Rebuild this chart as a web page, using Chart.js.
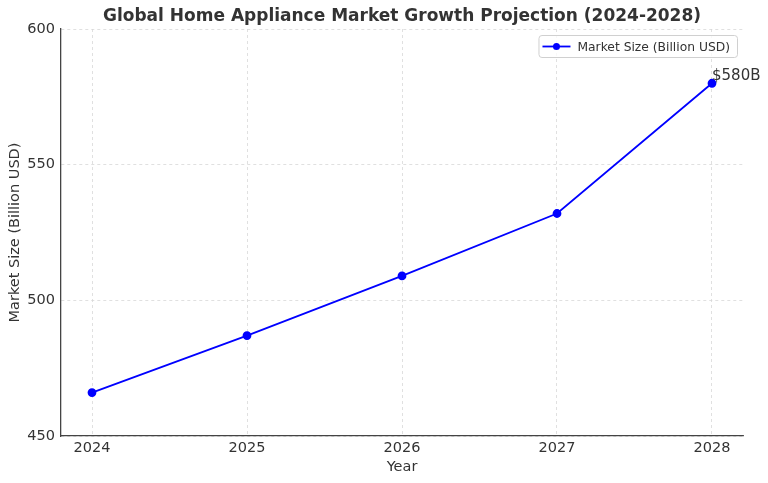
<!DOCTYPE html>
<html>
<head>
<meta charset="utf-8">
<script src="https://cdn.jsdelivr.net/npm/chart.js@4"></script>
<style>
  html, body { margin: 0; padding: 0; background: #fff; }
  #wrap { width: 768px; height: 483px; }
</style>
</head>
<body>
<div id="wrap"><canvas id="lineChart" width="768" height="483"></canvas></div>
<script>
const YEARS = [2024, 2025, 2026, 2027, 2028];
const MARKET_SIZE = [466, 487, 509, 532, 580];
const Y_TICKS = [450, 500, 550, 600];
const SERIES_LABEL = 'Market Size (Billion USD)';
const END_LABEL = '$580B';

const FONT = "'DejaVu Sans', sans-serif";
const TEXT = '#333333';

// legend box + end label drawn inside the plot
const extras = {
  id: 'extras',
  afterDraw(chart) {
    const ctx = chart.ctx;
    const area = chart.chartArea;
    const meta = chart.getDatasetMeta(0);
    const last = meta.data[meta.data.length - 1];

    ctx.save();
    ctx.font = '15px ' + FONT;
    ctx.fillStyle = TEXT;
    ctx.textAlign = 'left';
    ctx.textBaseline = 'bottom';
    ctx.fillText(END_LABEL, last.x, last.y);

    // legend
    ctx.font = '12.3px ' + FONT;
    const tw = ctx.measureText(SERIES_LABEL).width;
    const bw = tw + 46, bh = 22;
    const bx = area.right - 6 - bw, by = area.top + 6;
    ctx.fillStyle = 'rgba(255,255,255,0.8)';
    ctx.strokeStyle = '#d0d0d0';
    ctx.lineWidth = 1;
    ctx.beginPath();
    ctx.roundRect(bx + 0.5, by + 0.5, bw, bh, 3);
    ctx.fill();
    ctx.stroke();

    const cy = by + bh / 2 + 0.5;
    ctx.strokeStyle = '#0000ff';
    ctx.lineWidth = 1.8;
    ctx.beginPath();
    ctx.moveTo(bx + 4, cy);
    ctx.lineTo(bx + 32, cy);
    ctx.stroke();
    ctx.fillStyle = '#0000ff';
    ctx.beginPath();
    ctx.arc(bx + 18, cy, 3.5, 0, Math.PI * 2);
    ctx.fill();

    ctx.fillStyle = TEXT;
    ctx.textBaseline = 'middle';
    ctx.fillText(SERIES_LABEL, bx + 39, cy + 1);
    ctx.restore();
  }
};

new Chart(document.getElementById('lineChart'), {
  type: 'line',
  data: {
    datasets: [{
      label: SERIES_LABEL,
      data: YEARS.map((y, i) => ({ x: y, y: MARKET_SIZE[i] })),
      borderColor: '#0000ff',
      backgroundColor: '#0000ff',
      borderWidth: 1.8,
      pointRadius: 3.5,
      pointHoverRadius: 3.5,
      tension: 0
    }]
  },
  options: {
    responsive: false,
    animation: false,
    layout: { padding: { left: 0, right: 25, top: 0, bottom: 0 } },
    plugins: {
      legend: { display: false },
      tooltip: { enabled: false },
      title: {
        display: true,
        text: 'Global Home Appliance Market Growth Projection (2024-2028)',
        fullSize: false,
        color: TEXT,
        font: { family: FONT, size: 17, weight: 'bold' },
        padding: { top: 6.5, bottom: 2.1 }
      }
    },
    scales: {
      x: {
        type: 'linear',
        min: 2023.8,
        max: 2028.2,
        afterBuildTicks: s => { s.ticks = YEARS.map(v => ({ value: v })); },
        afterFit: s => { s.height = 47; },
        ticks: {
          color: TEXT,
          font: { family: FONT, size: 14.5 },
          padding: 4,
          callback: v => String(v)
        },
        grid: { color: '#d8d8d8', lineWidth: 0.8, drawTicks: false, tickLength: 0 },
        border: { color: '#444444', width: 1.3, dash: [3, 3] },
        title: {
          display: true,
          text: 'Year',
          color: TEXT,
          font: { family: FONT, size: 14.5 },
          padding: { top: 2, bottom: 7 }
        }
      },
      y: {
        min: 450,
        max: 600,
        afterBuildTicks: s => { s.ticks = Y_TICKS.map(v => ({ value: v })); },
        afterFit: s => { s.width = 61; },
        ticks: {
          color: TEXT,
          font: { family: FONT, size: 14.5 },
          padding: 6
        },
        grid: { color: '#d8d8d8', lineWidth: 0.8, drawTicks: false, tickLength: 0 },
        border: { color: '#444444', width: 1.3, dash: [3, 3] },
        title: {
          display: true,
          text: 'Market Size (Billion USD)',
          color: TEXT,
          font: { family: FONT, size: 14.5 },
          padding: { top: 6.5, bottom: 4 }
        }
      }
    }
  },
  plugins: [extras]
});
</script>
</body>
</html>
